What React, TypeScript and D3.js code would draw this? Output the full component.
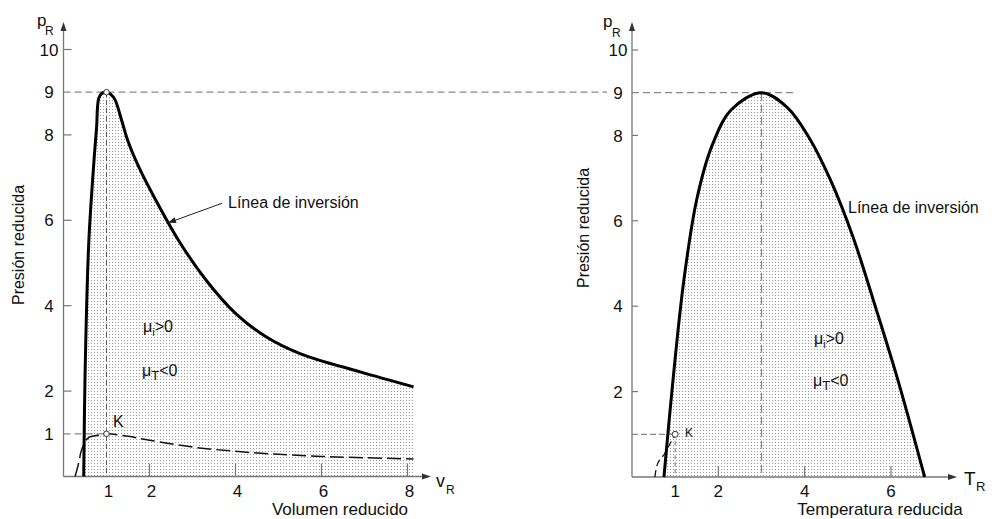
import React from 'react';
import * as d3 from 'd3';

// Left chart: inversion line in (reduced volume, reduced pressure)
const leftInvV = [0.47, 0.5, 0.58, 0.63, 0.72, 0.77, 0.82, 0.9, 1.0, 1.1, 1.2, 1.35, 1.5, 1.75, 2.02, 2.67, 3.3, 4.0, 4.7, 5.5, 6.9, 8.14];
const leftInvP = [0, 2.3, 5.3, 6.24, 7.55, 8.18, 8.86, 8.98, 9.0, 8.95, 8.82, 8.35, 7.85, 7.25, 6.71, 5.54, 4.62, 3.82, 3.28, 2.88, 2.45, 2.1];
// Left chart: saturation curve through K
const leftSatV = [0.27, 0.35, 0.42, 0.57, 0.85, 1.0, 1.5, 2.0, 3.0, 4.0, 5.0, 6.0, 7.0, 8.14];
const leftSatP = [0, 0.3, 0.62, 0.9, 0.97, 1.0, 0.94, 0.85, 0.69, 0.59, 0.52, 0.47, 0.44, 0.41];

// Right chart: inversion line in (reduced temperature, reduced pressure)
const rightInvT = [0.74, 0.95, 1.2, 1.5, 1.85, 2.3, 3.0, 3.6, 4.1, 4.6, 5.12, 5.65, 6.16, 6.78];
const rightInvP = [0, 2.27, 4.6, 6.5, 7.75, 8.6, 9.0, 8.65, 7.95, 6.95, 5.62, 3.95, 2.27, 0];
// Right chart: saturation curve up to K
const rightSatT = [0.53, 0.6, 0.76, 0.88, 1.0];
const rightSatP = [0, 0.33, 0.55, 0.78, 1.0];

const yTickMarks = [2, 4, 6, 8, 10];
const leftYLabels = [1, 2, 4, 6, 8, 9, 10];
const leftXTicks = [2, 4, 6, 8];
const leftXLabels = [1, 2, 4, 6, 8];
const rightYLabels = [2, 4, 6, 8, 9, 10];
const rightXTicks = [2, 4, 6];
const rightXLabels = [1, 2, 4, 6];

const kPoint = { v: 1, p: 1, t: 1 };
const peakLeft = { v: 1, p: 9 };
const peakRight = { t: 3, p: 9 };

const FONT = '"Liberation Sans", Arial, Helvetica, sans-serif';

export default function App() {
  const xL = d3.scaleLinear().domain([0, 8]).range([63.5, 407.5]);
  const yL = d3.scaleLinear().domain([0, 10]).range([476.5, 49.5]);
  const xR = d3.scaleLinear().domain([0, 6]).range([632, 891]);
  const yR = d3.scaleLinear().domain([0, 10]).range([477, 50]);

  const zip = (a: number[], b: number[]) => a.map((v, i) => [v, b[i]] as [number, number]);
  const leftInv = zip(leftInvV, leftInvP);
  const leftSat = zip(leftSatV, leftSatP);
  const rightInv = zip(rightInvT, rightInvP);
  const rightSat = zip(rightSatT, rightSatP);

  const curve = d3.curveCatmullRom.alpha(0.5);
  const lineL = d3.line<[number, number]>().x(d => xL(d[0])).y(d => yL(d[1])).curve(curve);
  const lineR = d3.line<[number, number]>().x(d => xR(d[0])).y(d => yR(d[1])).curve(curve);
  const areaL = d3.area<[number, number]>().x(d => xL(d[0])).y0(yL(0)).y1(d => yL(d[1])).curve(curve);
  const areaR = d3.area<[number, number]>().x(d => xR(d[0])).y0(yR(0)).y1(d => yR(d[1])).curve(curve);

  const axisColor = '#777';
  const dashGray = '#888';

  const arrowUp = (x: number, y: number) => `M${x},${y} L${x - 3},${y + 9} L${x + 3},${y + 9} Z`;
  const arrowRight = (x: number, y: number) => `M${x},${y} L${x - 9},${y - 3} L${x - 9},${y + 3} Z`;

  const tipX = xL(2.43), tipY = yL(5.94);
  const tailX = xL(3.69), tailY = yL(6.4);
  const ang = Math.atan2(tipY - tailY, tipX - tailX);
  const ah = 8, aw = 3;
  const ahPath = `M${tipX},${tipY} L${tipX - ah * Math.cos(ang) + aw * Math.sin(ang)},${tipY - ah * Math.sin(ang) - aw * Math.cos(ang)} L${tipX - ah * Math.cos(ang) - aw * Math.sin(ang)},${tipY - ah * Math.sin(ang) + aw * Math.cos(ang)} Z`;

  return (
    <svg width={994} height={519} style={{ position: 'absolute', left: 0, top: 0, background: '#fff' }} fontFamily={FONT}>
      <defs>
        <pattern id="dots" width={3} height={3} patternUnits="userSpaceOnUse">
          <rect x={1} y={1} width={1} height={1} fill="#9a9a9a" />
        </pattern>
      </defs>
      <rect width={994} height={519} fill="#fff" />

      {/* ===== LEFT CHART ===== */}
      <path d={areaL(leftInv) || ''} fill="url(#dots)" />
      <line x1={xL(0)} x2={xR(0) - 25} y1={yL(9)} y2={yL(9)} stroke={dashGray} strokeWidth={1.2} strokeDasharray="7,4" />
      <line x1={xL(peakLeft.v)} x2={xL(peakLeft.v)} y1={yL(peakLeft.p)} y2={yL(0)} stroke="#555" strokeWidth={1} strokeDasharray="5,3" />
      <line x1={xL(0)} x2={xL(kPoint.v)} y1={yL(kPoint.p)} y2={yL(kPoint.p)} stroke={dashGray} strokeWidth={1.2} strokeDasharray="7,4" />
      <line x1={xL(0)} x2={xL(0)} y1={yL(0)} y2={26} stroke={axisColor} strokeWidth={1.3} />
      <path d={arrowUp(xL(0), 22)} fill="#333" />
      <line x1={xL(0)} x2={426} y1={yL(0)} y2={yL(0)} stroke={axisColor} strokeWidth={1.3} />
      <path d={arrowRight(431, yL(0))} fill="#333" />
      {yTickMarks.map(t => (
        <line key={'lyt' + t} x1={xL(0)} x2={xL(0) + 8} y1={yL(t)} y2={yL(t)} stroke={axisColor} strokeWidth={1.2} />
      ))}
      {leftXTicks.map(t => (
        <line key={'lxt' + t} x1={xL(t)} x2={xL(t)} y1={yL(0)} y2={yL(0) - 13} stroke={axisColor} strokeWidth={1.2} />
      ))}
      {leftYLabels.map(t => (
        <text key={'lyl' + t} x={49} y={yL(t)} dy="0.36em" textAnchor="middle" fontSize={17} fill="#111">{t}</text>
      ))}
      {leftXLabels.map(t => (
        <text key={'lxl' + t} x={xL(t) + 2} y={497} textAnchor="middle" fontSize={17} fill="#111">{t}</text>
      ))}
      <path d={lineL(leftSat) || ''} fill="none" stroke="#111" strokeWidth={1.5} strokeDasharray="14,5" />
      <path d={lineL(leftInv) || ''} fill="none" stroke="#000" strokeWidth={3} strokeLinejoin="round" />
      <circle cx={xL(peakLeft.v)} cy={yL(peakLeft.p)} r={2.8} fill="#fff" stroke="#333" strokeWidth={1} />
      <circle cx={xL(kPoint.v)} cy={yL(kPoint.p)} r={2.8} fill="#fff" stroke="#333" strokeWidth={1} />
      <line x1={tailX} y1={tailY} x2={tipX} y2={tipY} stroke="#222" strokeWidth={1} />
      <path d={ahPath} fill="#222" />
      <text x={228} y={208} fontSize={16} fill="#111">Línea de inversión</text>
      <text x={113} y={427} fontSize={16} fill="#111">K</text>
      <text x={143} y={332} fontSize={16} fill="#111">μ<tspan fontSize={11} dy={4}>i</tspan><tspan dy={-4}>&gt;0</tspan></text>
      <text x={142} y={376} fontSize={16} fill="#111">μ<tspan fontSize={13} dy={4}>T</tspan><tspan dy={-4}>&lt;0</tspan></text>
      <text x={37} y={26} fontSize={17} fill="#111">p</text>
      <text x={45} y={35} fontSize={12} fill="#111">R</text>
      <text x={436} y={487} fontSize={18} fill="#111">v</text>
      <text x={446} y={494} fontSize={12} fill="#111">R</text>
      <text x={340} y={515} textAnchor="middle" fontSize={17} fill="#111">Volumen reducido</text>
      <text transform={`translate(24,245) rotate(-90)`} textAnchor="middle" fontSize={16} fill="#111">Presión reducida</text>

      {/* ===== RIGHT CHART ===== */}
      <path d={areaR(rightInv) || ''} fill="url(#dots)" />
      <line x1={xR(0)} x2={xR(3.73)} y1={yR(9)} y2={yR(9)} stroke={dashGray} strokeWidth={1.2} strokeDasharray="7,4" />
      <line x1={xR(peakRight.t)} x2={xR(peakRight.t)} y1={yR(peakRight.p)} y2={yR(0)} stroke={dashGray} strokeWidth={1.3} strokeDasharray="8,4" />
      <line x1={xR(0)} x2={xR(kPoint.t)} y1={yR(kPoint.p)} y2={yR(kPoint.p)} stroke={dashGray} strokeWidth={1.2} strokeDasharray="6,3" />
      <line x1={xR(kPoint.t)} x2={xR(kPoint.t)} y1={yR(kPoint.p)} y2={yR(0)} stroke={dashGray} strokeWidth={1.2} strokeDasharray="4,3" />
      <line x1={xR(0)} x2={xR(0)} y1={yR(0)} y2={26} stroke={axisColor} strokeWidth={1.3} />
      <path d={arrowUp(xR(0), 22)} fill="#333" />
      <line x1={xR(0)} x2={952} y1={yR(0)} y2={yR(0)} stroke={axisColor} strokeWidth={1.3} />
      <path d={arrowRight(957, yR(0))} fill="#333" />
      {yTickMarks.map(t => (
        <line key={'ryt' + t} x1={xR(0)} x2={xR(0) + 6} y1={yR(t)} y2={yR(t)} stroke={axisColor} strokeWidth={1.2} />
      ))}
      {rightXTicks.map(t => (
        <line key={'rxt' + t} x1={xR(t)} x2={xR(t)} y1={yR(0)} y2={yR(0) - 11} stroke={axisColor} strokeWidth={1.2} />
      ))}
      {rightYLabels.map(t => (
        <text key={'ryl' + t} x={618} y={yR(t)} dy="0.36em" textAnchor="middle" fontSize={17} fill="#111">{t}</text>
      ))}
      {rightXLabels.map(t => (
        <text key={'rxl' + t} x={xR(t)} y={497} textAnchor="middle" fontSize={17} fill="#111">{t}</text>
      ))}
      <path d={lineR(rightSat) || ''} fill="none" stroke="#111" strokeWidth={1.3} strokeDasharray="7,4" />
      <path d={lineR(rightInv) || ''} fill="none" stroke="#000" strokeWidth={3} strokeLinejoin="round" />
      <circle cx={xR(kPoint.t)} cy={yR(kPoint.p)} r={3} fill="#fff" stroke="#333" strokeWidth={1} />
      <text x={685} y={437} fontSize={12} fill="#111">K</text>
      <text x={848} y={213} fontSize={16} fill="#111">Línea de inversión</text>
      <text x={814} y={344} fontSize={16} fill="#111">μ<tspan fontSize={11} dy={4}>i</tspan><tspan dy={-4}>&gt;0</tspan></text>
      <text x={813} y={386} fontSize={16} fill="#111">μ<tspan fontSize={13} dy={4}>T</tspan><tspan dy={-4}>&lt;0</tspan></text>
      <text x={603} y={27} fontSize={17} fill="#111">p</text>
      <text x={612} y={37} fontSize={12} fill="#111">R</text>
      <text x={964} y={485} fontSize={19} fill="#111">T</text>
      <text x={976} y={491} fontSize={13} fill="#111">R</text>
      <text x={880} y={515} textAnchor="middle" fontSize={17} fill="#111">Temperatura reducida</text>
      <text transform={`translate(589,228) rotate(-90)`} textAnchor="middle" fontSize={16} fill="#111">Presión reducida</text>
    </svg>
  );
}
